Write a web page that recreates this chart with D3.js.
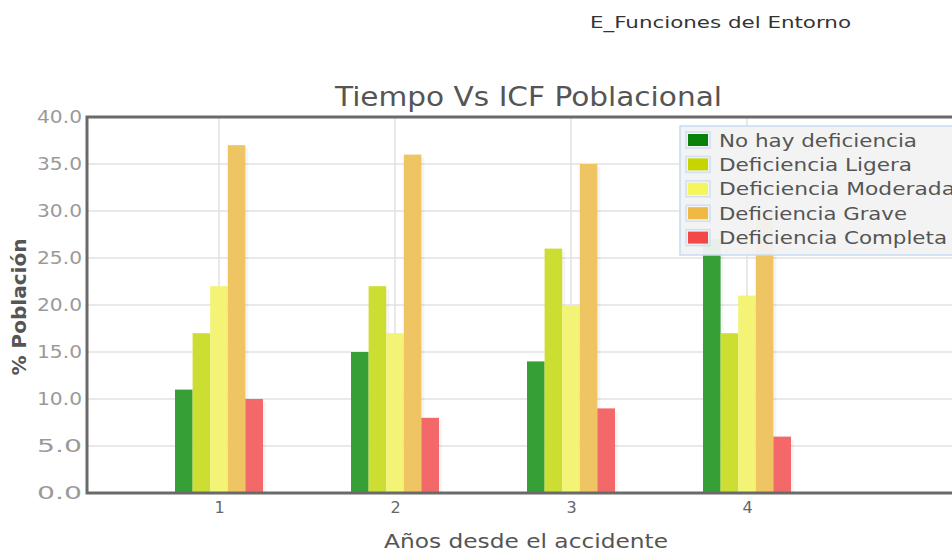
<!DOCTYPE html>
<html><head><meta charset="utf-8">
<script src="https://cdn.jsdelivr.net/npm/d3@7/dist/d3.min.js"></script>
<style>body{margin:0;background:#fff;overflow:hidden}svg{display:block}text{font-family:"DejaVu Sans",Lato,sans-serif}</style>
</head><body>
<script>
const categories = [1, 2, 3, 4];
const seriesNames = ["No hay deficiencia","Deficiencia Ligera","Deficiencia Moderada","Deficiencia Grave","Deficiencia Completa"];
const noHay = [11, 15, 14, 27];
const ligera = [17, 22, 26, 17];
const moderada = [22, 17, 20, 21];
const grave = [37, 36, 35, 30];
const completa = [10, 8, 9, 6];
const yTicks = [0,5,10,15,20,25,30,35,40];
const barColors = ["#36a036","#cdde32","#f3f375","#efc462","#f36868"];
const legendColors = ["#0a820a","#c6d400","#f5f55c","#f0b844","#f24848"];
const series = [noHay, ligera, moderada, grave, completa];

const W = 952, H = 553;
const svg = d3.select("body").append("svg").attr("width", W).attr("height", H);
const pLeft = 87, pTop = 117, pBottom = 493;
const x = d3.scaleLinear().domain([0.25, 5.25]).range([pLeft, pLeft + 5 * 176]);
const y = d3.scaleLinear().domain([0, 40]).range([pBottom, pTop]);

// grid
svg.append("g").selectAll("line").data(yTicks.slice(1)).join("line")
  .attr("x1", pLeft).attr("x2", W).attr("y1", d => y(d)).attr("y2", d => y(d))
  .attr("stroke", "#e2e2e2").attr("stroke-width", 1.5);
svg.append("g").selectAll("line").data(categories).join("line")
  .attr("x1", d => x(d)).attr("x2", d => x(d)).attr("y1", pTop).attr("y2", pBottom)
  .attr("stroke", "#e2e2e2").attr("stroke-width", 1.5);

// bars
const bw = 17.6;
const g = svg.append("g");
series.forEach((vals, si) => {
  categories.forEach((c, ci) => {
    const bx = x(c) - 2.5 * bw + si * bw;
    g.append("rect").attr("x", bx + 3).attr("y", y(vals[ci]) + 3)
      .attr("width", bw).attr("height", pBottom - y(vals[ci]) - 3)
      .attr("fill", "#000").attr("opacity", 0.04);
  });
});
series.forEach((vals, si) => {
  g.append("g").selectAll("rect").data(vals).join("rect")
    .attr("x", (d, i) => x(categories[i]) - 2.5 * bw + si * bw)
    .attr("y", d => y(d)).attr("width", bw).attr("height", d => pBottom - y(d))
    .attr("fill", barColors[si]);
});

// frame
svg.append("path").attr("d", `M${W},${pTop}H${pLeft}V${pBottom}H${W}`)
  .attr("fill", "none").attr("stroke", "#6a6a6a").attr("stroke-width", 3);

// y axis labels
const yAxis = d3.axisLeft(y).tickValues(yTicks).tickFormat(d3.format(".1f")).tickSize(0).tickPadding(5);
const ya = svg.append("g").attr("transform", `translate(${pLeft},0)`).call(yAxis);
ya.select(".domain").remove();
ya.selectAll("text").attr("fill", "#9a9a9a").style("font-size", "17px").style("font-family", "'DejaVu Sans',sans-serif")
  .attr("textLength", 45).attr("lengthAdjust", "spacingAndGlyphs");

const xAxis = d3.axisBottom(x).tickValues(categories).tickFormat(d3.format("d")).tickSize(0).tickPadding(8);
const xa = svg.append("g").attr("transform", `translate(0,${pBottom + 1})`).call(xAxis);
xa.select(".domain").remove();
xa.selectAll("text").attr("fill", "#666").style("font-size", "16px").style("font-family", "'DejaVu Sans',sans-serif");

// titles
function txt(s, xx, yy, size, len, fill, extra) {
  const t = svg.append("text").attr("x", xx).attr("y", yy).attr("text-anchor", "middle")
    .attr("fill", fill).style("font-size", size + "px")
    .attr("textLength", len).attr("lengthAdjust", "spacingAndGlyphs").text(s);
  return t;
}
txt("E_Funciones del Entorno", 720.5, 28, 16, 261, "#333");
txt("Tiempo Vs ICF Poblacional", 528.5, 106, 26, 387, "#555");
txt("Años desde el accidente", 526, 548, 20, 284, "#555");
svg.append("text").attr("transform", "translate(26,307) rotate(-90)").attr("text-anchor", "middle")
  .attr("fill", "#555").style("font-size", "20px").style("font-weight", "bold")
  .attr("textLength", 137).attr("lengthAdjust", "spacingAndGlyphs").text("% Población");

// legend
const legendLens = [198, 193, 236, 188, 228];
const lg = svg.append("g");
lg.append("rect").attr("x", 680).attr("y", 126).attr("width", 290).attr("height", 129)
  .attr("fill", "#f2f2f2").attr("fill-opacity", 0.95).attr("stroke", "#c4dcf4").attr("stroke-width", 1.5);
seriesNames.forEach((n, i) => {
  const yy = 140 + i * 24.4;
  lg.append("rect").attr("x", 686).attr("y", yy - 8).attr("width", 24).attr("height", 16)
    .attr("fill", "none").attr("stroke", "#cfe0f4").attr("stroke-width", 1.5);
  lg.append("rect").attr("x", 688).attr("y", yy - 6).attr("width", 20).attr("height", 12)
    .attr("fill", legendColors[i]);
  lg.append("text").attr("x", 719).attr("y", yy + 6.5).attr("fill", "#555")
    .style("font-size", "18px").attr("textLength", legendLens[i]).attr("lengthAdjust", "spacingAndGlyphs").text(n);
});
</script>
</body></html>
